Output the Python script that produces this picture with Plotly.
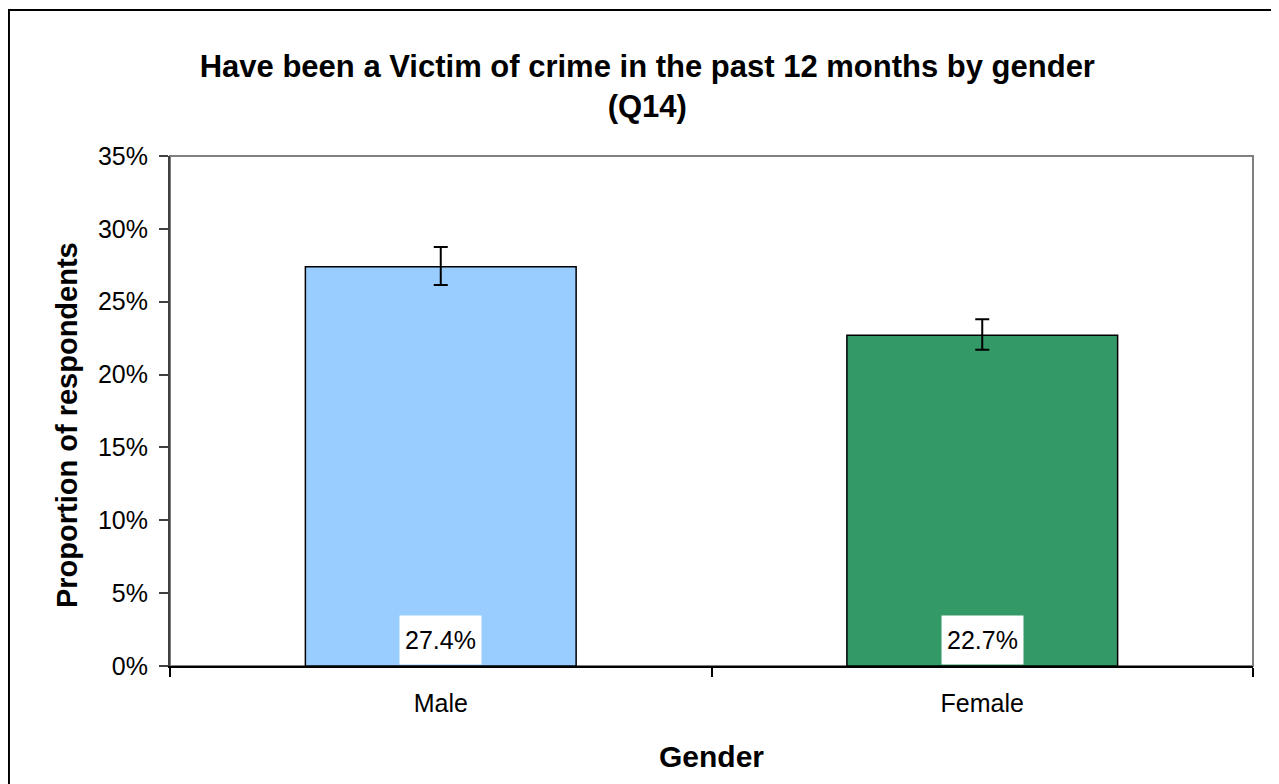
import plotly.graph_objects as go

genders = ["Male", "Female"]
victim_pct = [27.4, 22.7]
err_plus = [1.35, 1.1]
err_minus = [1.25, 1.0]
bar_colors = ["#99CCFF", "#339966"]
y_ticks = [0, 5, 10, 15, 20, 25, 30, 35]
y_tick_text = [f"{t}%" for t in y_ticks]

font_family = "Liberation Sans, Arial, sans-serif"

fig = go.Figure()
fig.add_trace(go.Bar(
    x=genders,
    y=victim_pct,
    width=0.5,
    marker=dict(color=bar_colors, line=dict(color="black", width=1.5)),
    error_y=dict(type="data", symmetric=False, array=err_plus, arrayminus=err_minus,
                 color="black", thickness=2, width=7),
    showlegend=False,
))

# value labels in white boxes at bar base
for g, v in zip(genders, victim_pct):
    fig.add_annotation(
        x=g, y=0, xref="x", yref="y", yanchor="bottom", yshift=1,
        text=f"{v:.1f}%", showarrow=False,
        width=81, height=48, bgcolor="white", borderpad=0,
        font=dict(family=font_family, size=25, color="black"),
    )

# axis titles
fig.add_annotation(
    x=-0.0951, y=0.4725, xref="paper", yref="paper", xanchor="center", yanchor="middle",
    text="<b>Proportion of respondents</b>", textangle=-90, showarrow=False,
    font=dict(family=font_family, size=29, color="black"),
)
fig.add_annotation(
    x=0.5, y=-0.1784, xref="paper", yref="paper", xanchor="center", yanchor="middle",
    text="<b>Gender</b>", showarrow=False,
    font=dict(family=font_family, size=30, color="black"),
)

# plot area border (grey) and outer chart border
fig.add_shape(type="rect", xref="paper", yref="paper", x0=0, y0=0, x1=1, y1=1,
              line=dict(color="#808080", width=2), layer="below")
fig.add_shape(type="rect", xref="paper", yref="paper", x0=-0.1487, y0=-0.5, x1=1.2, y1=1.2863,
              line=dict(color="black", width=2), layer="below")

fig.update_layout(
    width=1271, height=776,
    margin=dict(l=162, r=26, t=148, b=118),
    paper_bgcolor="white", plot_bgcolor="white",
    font=dict(family=font_family, size=25, color="black"),
    title=dict(
        text="<b>Have been a Victim of crime in the past 12 months by gender<br>(Q14)</b>",
        x=0.503, xanchor="center", y=1 - 69 / 776, yanchor="middle",
        font=dict(family=font_family, size=31, color="black"),
    ),
    xaxis=dict(
        showline=True, linecolor="black", linewidth=2,
        ticks="outside", tickson="boundaries", ticklen=9, tickcolor="black", tickwidth=1.5,
        showgrid=False, tickfont=dict(size=25), ticklabelstandoff=14, automargin=False,
    ),
    yaxis=dict(
        range=[0, 35], tickvals=y_ticks, ticktext=y_tick_text,
        showline=True, linecolor="#404040", linewidth=2,
        ticks="outside", ticklen=9, tickcolor="#404040", tickwidth=1.5,
        showgrid=False, zeroline=False, tickfont=dict(size=25),
        ticklabelstandoff=6, automargin=False,
    ),
)

fig.write_html("out.html")
